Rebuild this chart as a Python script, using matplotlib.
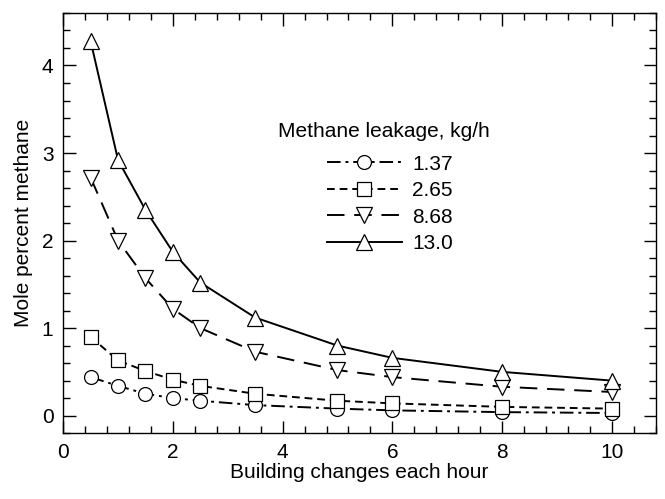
import numpy as np
import matplotlib.pyplot as plt
from matplotlib.ticker import MultipleLocator

# Building air changes per hour (x) and mole percent methane for each leakage rate

air_changes = [0.5, 1.0, 1.5, 2.0, 2.5, 3.5, 5.0, 6.0, 8.0, 10.0]

leak_1_37 = [0.44, 0.34, 0.25, 0.20, 0.17, 0.12, 0.08, 0.06, 0.04, 0.03]
leak_2_65 = [0.90, 0.63, 0.51, 0.41, 0.34, 0.25, 0.17, 0.14, 0.10, 0.08]
leak_8_68 = [2.72, 2.00, 1.57, 1.22, 1.00, 0.73, 0.52, 0.44, 0.33, 0.27]
leak_13_0 = [4.28, 2.92, 2.35, 1.87, 1.52, 1.12, 0.80, 0.66, 0.50, 0.40]

labels = ['1.37', '2.65', '8.68', '13.0']

plt.rcParams['font.family'] = ['Liberation Sans', 'DejaVu Sans']

fig = plt.figure(figsize=(6.65, 4.99), dpi=100)
ax = fig.add_axes([0.095, 0.132, 0.891, 0.842])

# Line style / marker for each series

styles = [
    (leak_1_37, (0, (7, 2.5, 1.5, 2.5)), 'o', 10),
    (leak_2_65, (0, (4, 2.5)), 's', 10),
    (leak_8_68, (0, (9, 5)), 'v', 11),
    (leak_13_0, '-', '^', 11),
]

for (vals, ls, mk, ms), lab in zip(styles, labels):
    ax.plot(air_changes, vals, color='black', linestyle=ls, linewidth=1.4,
            marker=mk, markersize=ms, markerfacecolor='white',
            markeredgecolor='black', markeredgewidth=0.9, label=lab)

# Axes limits and ticks

ax.set_xlim(0, 10.8)
ax.set_ylim(-0.2, 4.6)
ax.xaxis.set_major_locator(MultipleLocator(2))
ax.xaxis.set_minor_locator(MultipleLocator(0.4))
ax.yaxis.set_major_locator(MultipleLocator(1))
ax.yaxis.set_minor_locator(MultipleLocator(0.2))
ax.tick_params(which='both', direction='in', top=True, right=True,
               labelsize=15, width=1.0)
ax.tick_params(which='major', length=9, pad=7)
ax.tick_params(which='minor', length=5)
for sp in ax.spines.values():
    sp.set_linewidth(1.0)

ax.set_xlabel("Building changes each hour", fontsize=15, labelpad=1)
ax.set_ylabel("Mole percent methane", fontsize=15, labelpad=6)

# Legend (trailing spaces nudge the entries right of the title centre)

leg = ax.legend(title="Methane leakage, kg/h  ", frameon=False, fontsize=15,
                title_fontsize=15, loc='center',
                bbox_to_anchor=(0.551, 0.585), handlelength=3.6,
                handletextpad=0.5, labelspacing=0.36)
leg._legend_box.sep = 10

plt.savefig('out.png', dpi=100)
